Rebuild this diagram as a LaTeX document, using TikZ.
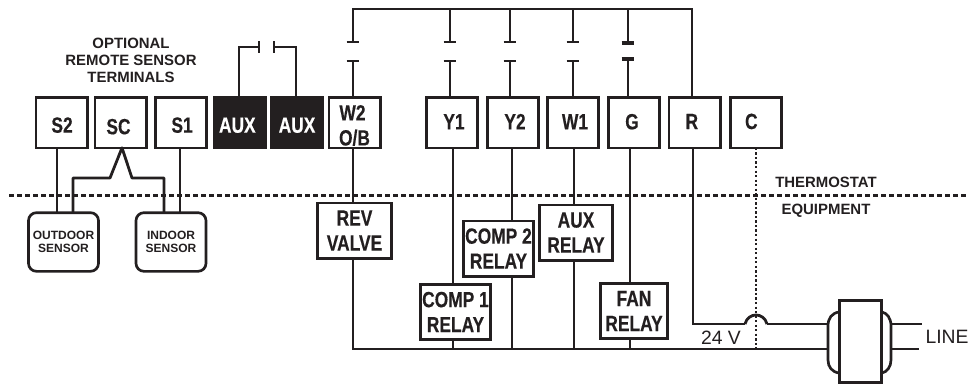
\documentclass[tikz,border=0pt]{standalone}
\usepackage{fontspec}
\setmainfont{Liberation Sans}
\newfontfamily\cnd[FakeStretch=0.79,BoldFeatures={FakeBold=0.4}]{Liberation Sans}
\definecolor{ink}{HTML}{231F20}
\newcommand\shifted[3]{\raisebox{#2}[0pt][0pt]{\hspace{#1}#3\hspace{-#1}}}
\tikzset{
  wire/.style={draw=ink,line width=2.1pt},
  thinwire/.style={draw=ink,line width=1.2pt},
  gbar/.style={draw=ink,line width=2.4pt},
  coilwire/.style={draw=ink,line width=2pt},
  divider/.style={draw=ink,line width=1.9pt,dash pattern=on 4pt off 2pt},
  dotwire/.style={draw=ink,line width=2pt,dash pattern=on 1.7pt off 1.7pt},
  term/.style={draw=ink,line width=2pt,fill=white,minimum width=38.5pt,minimum height=38pt,inner sep=0pt,outer sep=0pt,text=ink,font=\cnd\bfseries\fontsize{16.5pt}{18.75pt}\selectfont,align=center},
  auxterm/.style={term,fill=ink,text=white,draw=ink},
  relay/.style={term,minimum width=#1,minimum height=41.5pt},
  relay/.default=52pt,
  sensor/.style={draw=ink,line width=2pt,fill=white,rounded corners=6pt,minimum width=52.5pt,minimum height=44pt,inner sep=0pt,outer sep=0pt,text=ink,align=center,font=\bfseries\fontsize{9pt}{9.75pt}\selectfont},
  caption/.style={text=ink,inner sep=0pt,align=center,font=\bfseries\fontsize{11.2pt}{12.75pt}\selectfont},
  plainlabel/.style={text=ink,inner sep=0pt,font=\fontsize{14.5pt}{16pt}\selectfont},
}
\begin{document}
\begin{tikzpicture}[x=0.75pt,y=-0.75pt]
\useasboundingbox (0,0) rectangle (972,383);
% divider
\coordinate (dl) at (9,195.5);
\coordinate (dr) at (966,195.5);
\draw[divider] (dl) -- (dr);
% terminals
\node[term] (s2) at (61.5,122.5) {\shifted{0.4pt}{-7.65pt}{S2}};
\node[term] (sc) at (120.5,122.5) {\shifted{-1.5pt}{-8.8pt}{SC}};
\node[term] (s1) at (181,122.5) {\shifted{0.8pt}{-7.65pt}{S1}};
\node[auxterm] (aux1) at (240,122.5) {\shifted{-2pt}{-7.65pt}{AUX}};
\node[auxterm] (aux2) at (296.5,122.5) {\shifted{0.4pt}{-7.65pt}{AUX}};
\node[term] (w2) at (354.5,122.5) {\rule{0pt}{16pt}\hspace{-3pt}W2\\O/B};
\node[term] (y1) at (452,122.5) {\shifted{1.5pt}{-5.1pt}{Y1}};
\node[term] (y2) at (513,122.5) {\shifted{1.5pt}{-5.1pt}{Y2}};
\node[term] (w1) at (573,122.5) {\shifted{1.5pt}{-5.1pt}{W1}};
\node[term] (g) at (634,122.5) {\shifted{-1.5pt}{-5.1pt}{G}};
\node[term] (r) at (694.5,122.5) {\shifted{-2pt}{-4.9pt}{R}};
\node[term] (c) at (756,122.5) {\shifted{-3.5pt}{-4.9pt}{C}};
% relays
\node[relay=55.5pt] (rev) at (354.5,230.5) {REV\\VALVE};
\node[relay=52.5pt] (comp1) at (455.5,312) {COMP 1\\RELAY};
\node[relay=52.5pt] (comp2) at (498.5,248.5) {COMP 2\\RELAY};
\node[relay=55pt,minimum height=41.5pt] (auxr) at (576,232.5) {AUX\\RELAY};
\node[relay=50pt] (fan) at (634,311) {FAN\\RELAY};
% sensors
\node[sensor] (outs) at (63.5,242) {OUTDOOR\\SENSOR};
\node[sensor] (ins) at (171,242) {INDOOR\\SENSOR};
% captions
\node[caption] (title) at (131,60) {OPTIONAL\\REMOTE SENSOR\\TERMINALS};
\node[caption] (thermo) at (826,182) {THERMOSTAT};
\node[caption] (equip) at (826,211) {EQUIPMENT};
\node[plainlabel] (v24) at (721,338) {24 V};
\node[plainlabel] (line) at (947,337) {LINE};
% sensor wiring
\coordinate (xs2) at (57,0);
\coordinate (xs1) at (180,0);
\draw[wire] (xs2 |- s2.south) -- (xs2 |- outs.north);
\draw[wire] (xs1 |- s1.south) -- (xs1 |- ins.north);
\coordinate (apex) at (122,149);
\coordinate (sl) at (110,178);
\coordinate (sll) at (73,178);
\coordinate (sr) at (132,178);
\coordinate (srr) at (164,178);
\draw[wire,line join=round] (sll |- outs.north) -- (sll) -- (sl) -- (apex |- sc.south) -- (sr) -- (srr) -- (srr |- ins.north);
% aux jumper
\coordinate (auxl) at (239,47);
\coordinate (auxlb) at (259,47);
\coordinate (auxr2) at (296,47);
\coordinate (auxrb) at (274,47);
\draw[thinwire,line width=1.4pt] (auxl |- aux1.north) -- (auxl) -- (auxlb);
\draw[thinwire,line width=1.4pt] (auxr2 |- aux2.north) -- (auxr2) -- (auxrb);
\draw[thinwire] ([yshift=4.5pt]auxlb) -- ([yshift=-4.5pt]auxlb);
\draw[thinwire] ([yshift=4.5pt]auxrb) -- ([yshift=-4.5pt]auxrb);
% top bus
\coordinate (bw2) at (353,9);
\coordinate (by1) at (450,9);
\coordinate (by2) at (510,9);
\coordinate (bw1) at (573,9);
\coordinate (bg) at (628,9);
\coordinate (br) at (692,9);
\draw[wire,line join=miter] (bw2 |- 0,42) -- (bw2) -- (br) -- (br |- r.north);
\foreach \b/\n in {by1/y1,by2/y2,bw1/w1}{
  \draw[wire] (\b) -- (\b |- 0,42);
}
\foreach \b/\n in {bw2/w2,by1/y1,by2/y2,bw1/w1}{
  \draw[wire] (\b |- 0,61) -- (\b |- \n.north);
  \draw[thinwire] ([xshift=-4.7pt]\b |- 0,42) -- ([xshift=4.7pt]\b |- 0,42);
  \draw[thinwire] ([xshift=-4.7pt]\b |- 0,61) -- ([xshift=4.7pt]\b |- 0,61);
}
\draw[wire] (bg) -- (bg |- 0,43);
\draw[wire] (bg |- 0,59) -- (bg |- g.north);
\draw[gbar] ([xshift=-4.7pt]bg |- 0,43) -- ([xshift=4.7pt]bg |- 0,43);
\draw[gbar] ([xshift=-4.7pt]bg |- 0,59) -- ([xshift=4.7pt]bg |- 0,59);
% lower wiring
\node[draw=ink,line width=2.2pt,fill=white,minimum width=32pt,minimum height=61pt,inner sep=0pt,outer sep=0pt] (xfmr) at (860.5,341.5) {};
\coordinate (lw2) at (353,349);
\coordinate (ly1) at (453,349);
\coordinate (ly2) at (512,349);
\coordinate (lw1) at (574,349);
\coordinate (lg) at (630,349);
\coordinate (coilL) at (828,349);
\coordinate (coilR) at (891,349);
\draw[wire] (lw2 |- w2.south) -- (lw2 |- rev.north);
\draw[wire,line join=miter] (lw2 |- rev.south) -- (lw2) -- (coilL);
\draw[wire] (ly1 |- y1.south) -- (ly1 |- comp1.north);
\draw[wire] (ly1 |- comp1.south) -- (ly1);
\draw[wire] (ly2 |- y2.south) -- (ly2 |- comp2.north);
\draw[wire] (ly2 |- comp2.south) -- (ly2);
\draw[wire] (lw1 |- w1.south) -- (lw1 |- auxr.north);
\draw[wire] (lw1 |- auxr.south) -- (lw1);
\draw[wire] (lg |- g.south) -- (lg |- fan.north);
\draw[wire] (lg |- fan.south) -- (lg);
% R wire with jump
\coordinate (rc) at (693,324);
\coordinate (j1) at (745,324);
\coordinate (j2) at (767,324);
\coordinate (coilLa) at (828,324);
\coordinate (coilRa) at (891,324);
\coordinate (la) at (922,324);
\coordinate (lb) at (919,349);
\draw[wire,line join=miter] (rc |- r.south) -- (rc) -- (j1);
\draw[wire] (j1) .. controls (748,312) and (764,312) .. (j2);
\draw[wire] (j2) -- (coilLa);
% C dotted
\coordinate (xc) at (756,349);
\draw[dotwire] (xc |- c.south) -- (xc);
% coils
\coordinate (cl1) at (828,326);
\coordinate (cl2) at (828,360);
\coordinate (cr1) at (891,326);
\coordinate (cr2) at (891,360);
\draw[coilwire] (xfmr.west |- 0,312) .. controls (832,313) and (cl1 |- 0,318) .. (cl1) -- (cl2) .. controls (828,367) and (832,372) .. (xfmr.west |- 0,373);
\draw[coilwire] (xfmr.east |- 0,312) .. controls (887,313) and (cr1 |- 0,318) .. (cr1) -- (cr2) .. controls (891,367) and (887,372) .. (xfmr.east |- 0,373);
\draw[wire] (coilRa) -- (la);
\draw[wire] (coilR) -- (lb);
\end{tikzpicture}
\end{document}
